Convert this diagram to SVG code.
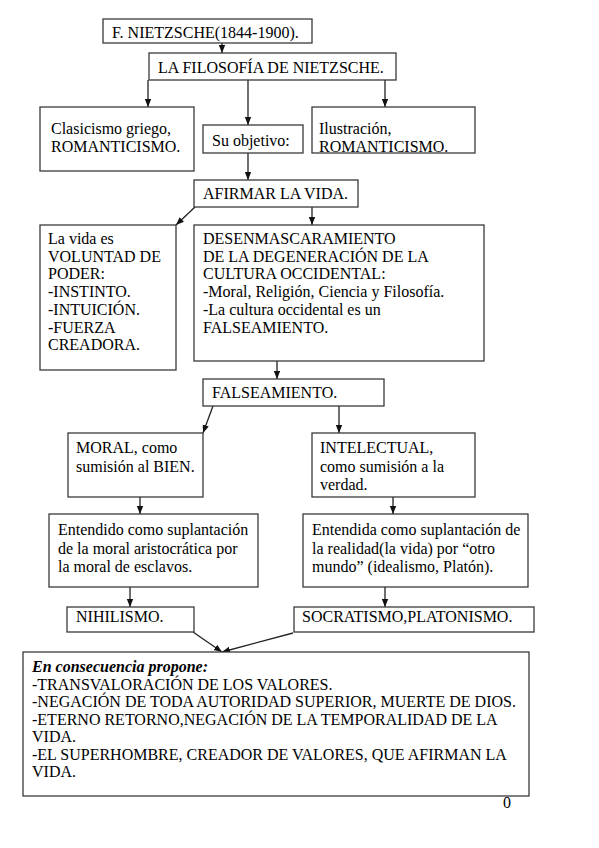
<svg xmlns="http://www.w3.org/2000/svg" width="599" height="848" viewBox="0 0 599 848">
<style>
rect{fill:#fff;stroke:#3a3a3a;stroke-width:1.3}
text{font-family:"Liberation Serif","Times New Roman",serif;font-size:16px;fill:#000}
.c line{stroke:#222;stroke-width:1.3;marker-end:url(#ah)}
</style>
<defs>
<marker id="ah" markerUnits="userSpaceOnUse" markerWidth="8" markerHeight="8" viewBox="0 0 8 8" refX="8" refY="4" orient="auto">
<path d="M0,0.8 L8,4 L0,7.2 Z" fill="#111"/>
</marker>
</defs>
<rect width="599" height="848" style="fill:#fff;stroke:none"/>
<g class="c">
<line x1="222" y1="43" x2="222" y2="53"/>
<line x1="148" y1="80" x2="148" y2="107"/>
<line x1="248" y1="80" x2="248" y2="125"/>
<line x1="385" y1="80" x2="385" y2="107"/>
<line x1="248" y1="153" x2="248" y2="180"/>
<line x1="195" y1="207" x2="176" y2="225"/>
<line x1="312" y1="207" x2="312" y2="225"/>
<line x1="277" y1="361" x2="277" y2="379"/>
<line x1="213" y1="406" x2="203" y2="433"/>
<line x1="339" y1="406" x2="339" y2="433"/>
<line x1="140" y1="497" x2="140" y2="514"/>
<line x1="393" y1="497" x2="393" y2="514"/>
<line x1="130" y1="587" x2="130" y2="607"/>
<line x1="385" y1="587" x2="385" y2="607"/>
<line x1="193" y1="632" x2="222" y2="652"/>
<line x1="293" y1="633" x2="222" y2="652"/>
</g>
<g id="n1"><rect x="103" y="19" width="209" height="24"/><text x="112" y="38">F. NIETZSCHE(1844-1900).</text></g>
<g id="n2"><rect x="149" y="53" width="247" height="27"/><text x="158" y="73">LA FILOSOFÍA DE NIETZSCHE.</text></g>
<g id="n3"><rect x="40" y="107" width="154" height="64"/><text x="51" y="134">Clasicismo griego,</text><text x="51" y="152">ROMANTICISMO.</text></g>
<g id="n4"><rect x="203" y="125" width="100" height="28"/><text x="212" y="146">Su objetivo:</text></g>
<g id="n5"><rect x="312" y="107" width="163" height="46"/><text x="319" y="134">Ilustración,</text><text x="319" y="152">ROMANTICISMO.</text></g>
<g id="n6"><rect x="194" y="180" width="164" height="27"/><text x="203" y="199">AFIRMAR LA VIDA.</text></g>
<g id="n7"><rect x="40" y="225" width="136" height="145"/>
<text x="48" y="244">La vida es</text><text x="48" y="261.7">VOLUNTAD DE</text><text x="48" y="279.4">PODER:</text><text x="48" y="297.1">-INSTINTO.</text><text x="48" y="314.8">-INTUICIÓN.</text><text x="48" y="332.5">-FUERZA</text><text x="48" y="350.2">CREADORA.</text></g>
<g id="n8"><rect x="194" y="225" width="290" height="136"/>
<text x="203" y="244">DESENMASCARAMIENTO</text><text x="203" y="261.7">DE LA DEGENERACIÓN DE LA</text><text x="203" y="279.4">CULTURA OCCIDENTAL:</text><text x="203" y="297.1">-Moral, Religión, Ciencia y Filosofía.</text><text x="203" y="314.8">-La cultura occidental es un</text><text x="203" y="332.5">FALSEAMIENTO.</text></g>
<g id="n9"><rect x="203" y="379" width="181" height="27"/><text x="212" y="398">FALSEAMIENTO.</text></g>
<g id="n10"><rect x="68" y="433" width="135" height="64"/><text x="76" y="453">MORAL, como</text><text x="76" y="471.5">sumisión al BIEN.</text></g>
<g id="n11"><rect x="312" y="433" width="163" height="64"/><text x="320" y="453">INTELECTUAL,</text><text x="320" y="471.5">como sumisión a la</text><text x="320" y="490">verdad.</text></g>
<g id="n12"><rect x="49" y="514" width="209" height="73"/><text x="58" y="535">Entendido como suplantación</text><text x="58" y="553.5">de la moral aristocrática por</text><text x="58" y="572">la moral de esclavos.</text></g>
<g id="n13"><rect x="303" y="514" width="225" height="73"/><text x="312" y="535">Entendida como suplantación de</text><text x="312" y="553.5">la realidad(la vida) por “otro</text><text x="312" y="572">mundo” (idealismo, Platón).</text></g>
<g id="n14"><rect x="67" y="607" width="127" height="25"/><text x="76" y="622">NIHILISMO.</text></g>
<g id="n15"><rect x="294" y="607" width="240" height="25"/><text x="302" y="622">SOCRATISMO,PLATONISMO.</text></g>
<g id="n16"><rect x="23" y="652" width="506" height="144"/>
<text x="32" y="672" font-weight="bold" font-style="italic">En consecuencia propone:</text>
<text x="32" y="689.5">-TRANSVALORACIÓN DE LOS VALORES.</text>
<text x="32" y="707">-NEGACIÓN DE TODA AUTORIDAD SUPERIOR, MUERTE DE DIOS.</text>
<text x="32" y="724.5">-ETERNO RETORNO,NEGACIÓN DE LA TEMPORALIDAD DE LA</text>
<text x="32" y="742">VIDA.</text>
<text x="32" y="759.5">-EL SUPERHOMBRE, CREADOR DE VALORES, QUE AFIRMAN LA</text>
<text x="32" y="777">VIDA.</text></g>
<text x="503" y="808">0</text>
</svg>
